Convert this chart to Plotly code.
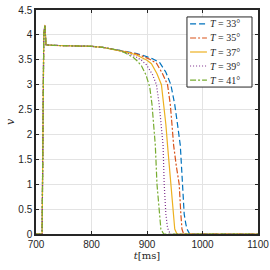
import plotly.graph_objects as go

# Shared initial part of all traces (t in ms, v)
t_common = [700, 711, 712.5, 714, 716, 718, 730, 760, 800, 820, 835, 850]
v_common = [0, 0, 2.0, 4.0, 4.2, 3.8, 3.79, 3.785, 3.77, 3.75, 3.72, 3.69]

labels = ["<i>T</i> = 33°", "<i>T</i> = 35°", "<i>T</i> = 37°", "<i>T</i> = 39°", "<i>T</i> = 41°"]

t33 = [865, 880, 895, 910, 923, 934, 943, 950, 955, 960, 964, 967, 970, 972, 977, 985, 1100]
v33 = [3.67, 3.63, 3.58, 3.52, 3.44, 3.25, 3.0, 2.6, 2.2, 1.78, 1.0, 0.4, 0.2, 0.1, 0.0, 0.0, 0.0]

t35 = [865, 880, 895, 905, 917, 928, 937, 942, 945, 948, 953, 958, 961, 963, 966, 975, 1100]
v35 = [3.66, 3.62, 3.56, 3.51, 3.43, 3.22, 3.0, 2.6, 2.2, 1.78, 1.35, 1.0, 0.4, 0.1, 0.0, 0.0, 0.0]

t37 = [865, 880, 890, 900, 908, 918, 926, 930, 934, 937, 940, 943, 947, 950, 954, 965, 1100]
v37 = [3.65, 3.6, 3.55, 3.49, 3.42, 3.22, 3.0, 2.65, 2.2, 1.78, 1.35, 1.0, 0.4, 0.1, 0.0, 0.0, 0.0]

t39 = [860, 870, 880, 890, 899, 910, 917, 922, 926, 929, 931, 934, 937, 942, 950, 1100]
v39 = [3.65, 3.61, 3.56, 3.49, 3.4, 3.2, 3.0, 2.6, 2.2, 1.78, 1.0, 0.4, 0.12, 0.0, 0.0, 0.0]

t41 = [860, 868, 875, 882, 890, 898, 905, 909, 912, 915, 918, 922, 925, 930, 940, 1100]
v41 = [3.64, 3.6, 3.55, 3.48, 3.38, 3.2, 2.95, 2.6, 2.2, 1.78, 1.0, 0.4, 0.1, 0.0, 0.0, 0.0]

series_t = [t33, t35, t37, t39, t41]
series_v = [v33, v35, v37, v39, v41]
colors = ["#0072BD", "#D95319", "#EDB120", "#7E2F8E", "#77AC30"]
dashes = ["6px,3px", "6px,2px,2px,2px", "solid", "1px,2px", "6px,2px,2px,2px"]

fig = go.Figure()
for lab, ts, vs, c, d in zip(labels, series_t, series_v, colors, dashes):
    fig.add_trace(go.Scatter(
        x=t_common + ts, y=v_common + vs, mode="lines", name=lab,
        line=dict(color=c, width=1.2, dash=d), showlegend=False,
    ))

# Compact legend box (drawn in paper coordinates, like MATLAB's legend)
leg_x0, leg_x1, leg_y0, leg_y1 = 0.68, 0.973, 0.656, 0.969
fig.add_shape(type="rect", xref="paper", yref="paper",
              x0=leg_x0, x1=leg_x1, y0=leg_y0, y1=leg_y1,
              line=dict(color="#262626", width=1), fillcolor="white", layer="above")
row_step = (leg_y1 - leg_y0) / 5
for i, (lab, c, d) in enumerate(zip(labels, colors, dashes)):
    yy = leg_y1 - row_step * (i + 0.5)
    fig.add_shape(type="line", xref="paper", yref="paper",
                  x0=0.694, x1=0.77, y0=yy, y1=yy,
                  line=dict(color=c, width=1.2, dash=d), layer="above")
    fig.add_annotation(xref="paper", yref="paper", x=0.775, y=yy,
                       text=lab, showarrow=False, xanchor="left", yanchor="middle",
                       font=dict(family="Liberation Serif", size=10, color="#262626"))

axis_common = dict(
    showline=True, linecolor="#262626", linewidth=1.5, mirror="ticks",
    ticks="inside", ticklen=3, tickcolor="#262626",
    showgrid=True, gridcolor="#e3e3e3", gridwidth=1, zeroline=False,
    automargin=False,
    tickfont=dict(family="Liberation Sans, Arial", size=10, color="#262626"),
)

fig.update_layout(
    width=270, height=270,
    margin=dict(l=36, r=12, t=10, b=36),
    plot_bgcolor="white", paper_bgcolor="white",
    xaxis=dict(range=[700, 1100], tickvals=[700, 800, 900, 1000, 1100],
               title=dict(text="<i>t</i>[ms]", standoff=2,
                          font=dict(family="DejaVu Serif", size=10, color="#262626")),
               **axis_common),
    yaxis=dict(range=[0, 4.5], tickvals=[0, 0.5, 1, 1.5, 2, 2.5, 3, 3.5, 4, 4.5],
               ticktext=["0", "0.5", "1", "1.5", "2", "2.5", "3", "3.5", "4", "4.5"],
               title=dict(text="<i>v</i>", standoff=1,
                          font=dict(family="DejaVu Serif", size=11, color="#262626")),
               **axis_common),
    showlegend=False,
)

fig.write_html("out.html", config={"displayModeBar": False},
               post_script="document.body.style.margin='0';")
